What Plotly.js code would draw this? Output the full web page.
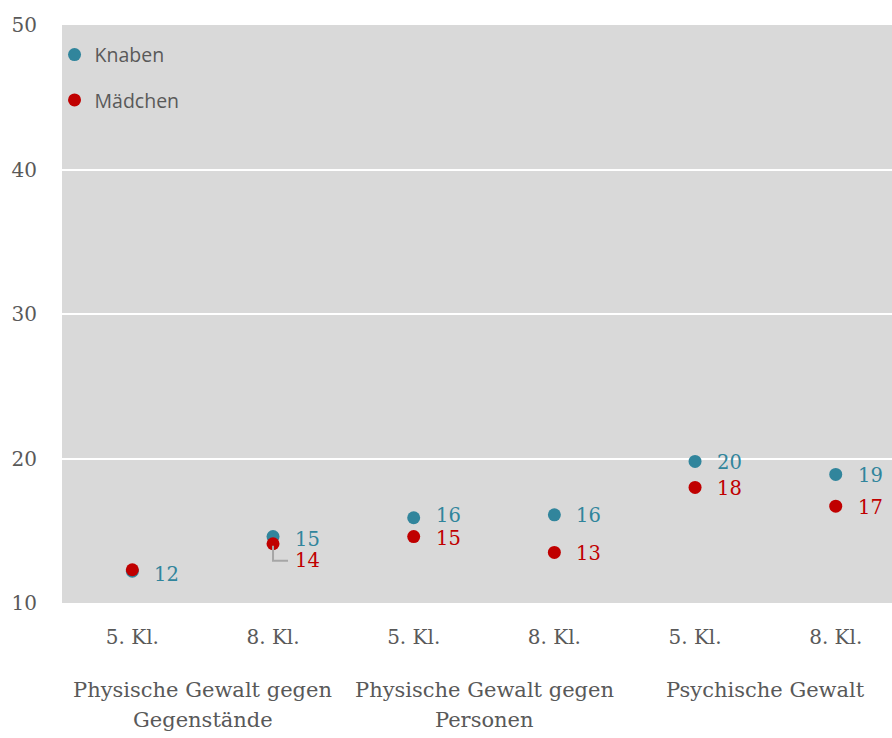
<!DOCTYPE html>
<html><head><meta charset="utf-8">
<script src="https://cdn.plot.ly/plotly-3.0.1.min.js"></script>
<style>html,body{margin:0;padding:0;background:#fff}#chart{width:892px;height:738px}</style>
</head><body><div id="chart"></div>
<script>
// ---- data ----
const groups = ["Physische Gewalt gegen<br>Gegenstände", "Physische Gewalt gegen<br>Personen", "Psychische Gewalt"];
const classes = ["5. Kl.", "8. Kl.", "5. Kl.", "8. Kl.", "5. Kl.", "8. Kl."];
const knaben = [12.2, 14.6, 15.9, 16.1, 19.8, 18.9];
const maedchen = [12.3, 14.1, 14.6, 13.5, 18.0, 16.7];
const knabenLabels = ["12", "15", "16", "16", "20", "19"];
const maedchenLabels = [null, "14", "15", "13", "18", "17"];

// ---- styling ----
const cK = "#31859c", cM = "#c00000", grey = "#595959";
const serif = "DejaVu Serif, Liberation Serif, serif";
const xs = classes.map((_, i) => i);
const kShift = [-3, -3, 2, -1, -1, -1];
const mShift = [null, -17, -2, -1, -1, -1];

const traces = [
  {x: xs, y: knaben, name: "Knaben", type: "scatter", mode: "markers",
   marker: {color: cK, size: 13}, legendgroup: "k"},
  {x: xs, y: maedchen, name: "Mädchen", type: "scatter", mode: "markers",
   marker: {color: cM, size: 13}, legendgroup: "m"}
];

const annotations = [];
xs.forEach(i => {
  if (knabenLabels[i]) annotations.push({x: i, y: knaben[i], xref: "x", yref: "y", text: knabenLabels[i],
    showarrow: false, xanchor: "left", yanchor: "middle", xshift: 20, yshift: kShift[i], height: 19,
    font: {family: serif, size: 19.5, color: cK}});
  if (maedchenLabels[i]) annotations.push({x: i, y: maedchen[i], xref: "x", yref: "y", text: maedchenLabels[i],
    showarrow: false, xanchor: "left", yanchor: "middle", xshift: 20, yshift: mShift[i], height: 19,
    font: {family: serif, size: 19.5, color: cM}});
});
groups.forEach((g, j) => {
  g.split("<br>").forEach((line, k) => {
    annotations.push({x: 2 * j + 0.5, y: 0, xref: "x", yref: "paper", text: line, showarrow: false,
      xanchor: "center", yanchor: "middle", yshift: -87 - 30 * k, font: {family: serif, size: 21, color: grey}});
  });
});

const shapes = [{type: "path", xref: "x", yref: "y", xsizemode: "pixel", ysizemode: "pixel",
  xanchor: 1, yanchor: maedchen[1], path: "M 0 -2 L 0 -17 L 15 -17",
  line: {color: "#a6a6a6", width: 2}}];

const layout = {
  width: 892, height: 738,
  margin: {l: 62, r: 0, t: 25, b: 135},
  paper_bgcolor: "#ffffff", plot_bgcolor: "#d9d9d9",
  showlegend: true,
  legend: {x: -0.009, y: 0.982, xanchor: "left", yanchor: "top", bgcolor: "rgba(0,0,0,0)",
    font: {family: "Open Sans, sans-serif", size: 19.5, color: grey}, tracegroupgap: 17, itemwidth: 30},
  xaxis: {range: [-0.5, 5.4], tickvals: xs, ticktext: classes, showgrid: false, zeroline: false,
    showline: false, ticks: "", ticklabelstandoff: 20, tickfont: {family: serif, size: 20, color: grey}, fixedrange: true},
  yaxis: {range: [10, 50], dtick: 10, tick0: 10, showgrid: true, gridcolor: "#ffffff", gridwidth: 2,
    zeroline: false, showline: false, ticks: "", ticklabelstandoff: 24,
    tickfont: {family: serif, size: 20, color: grey}, fixedrange: true},
  annotations: annotations, shapes: shapes
};
Plotly.newPlot("chart", traces, layout, {displayModeBar: false, staticPlot: true});
</script></body></html>
